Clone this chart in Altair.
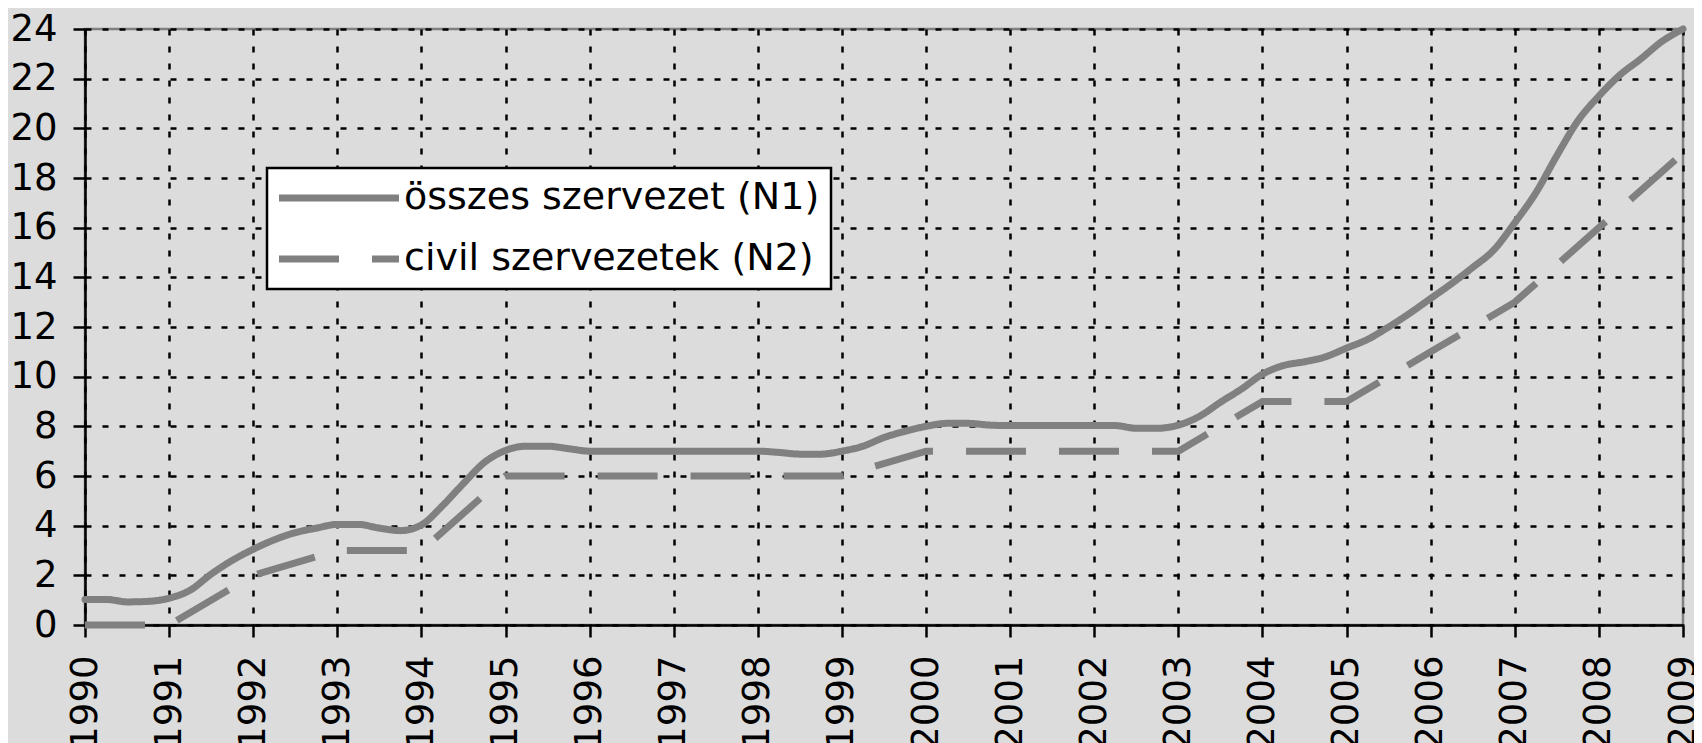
import altair as alt
import pandas as pd

N1_LABEL = "összes szervezet (N1)"
N2_LABEL = "civil szervezetek (N2)"

# quarterly time points 1990.00 ... 2009.00
n1_t = [1990 + q / 4 for q in range(77)]
n1_v = [
    1.03, 1.03, 0.93, 0.95,
    1.08, 1.40, 2.05, 2.60,
    3.05, 3.43, 3.72, 3.90,
    4.05, 4.05, 3.90, 3.80,
    4.03, 4.80, 5.70, 6.55,
    7.03, 7.20, 7.20, 7.10,
    7.00, 7.00, 7.00, 7.00,
    7.00, 7.00, 7.00, 7.00,
    7.00, 6.95, 6.88, 6.88,
    7.00, 7.20, 7.55, 7.80,
    8.00, 8.12, 8.12, 8.05,
    8.03, 8.03, 8.03, 8.03,
    8.03, 8.03, 7.92, 7.92,
    8.05, 8.40, 8.97, 9.50,
    10.10, 10.45, 10.60, 10.80,
    11.15, 11.50, 12.00, 12.55,
    13.15, 13.75, 14.40, 15.10,
    16.20, 17.40, 18.90, 20.30,
    21.30, 22.15, 22.80, 23.50,
    24.00,
]

n2_t = [1990, 1991, 1992, 1993, 1994, 1995, 1996, 1997, 1998, 1999,
        2000, 2001, 2002, 2003, 2004, 2005, 2006, 2007, 2008, 2009]
n2_v = [0, 0, 2, 3, 3, 6, 6, 6, 6, 6,
        7, 7, 7, 7, 9, 9, 11, 13, 16, 19]

year_ticks = list(range(1990, 2010))
y_ticks = list(range(0, 25, 2))

df1 = pd.DataFrame({"t": n1_t, "v": n1_v, "s": N1_LABEL})
df2 = pd.DataFrame({"t": n2_t, "v": n2_v, "s": N2_LABEL})

FONT = "DejaVu Sans"
GRAY = "#808080"
BG = "#dcdcdc"

# legend stroke symbol: a unit path stretched to the right so that the
# symbol is long while its layout footprint stays small
SYM = "M-1.8,0L10.2,0"

x_enc = alt.X(
    "t:Q",
    scale=alt.Scale(domain=[1990, 2009], nice=False, zero=False),
    axis=alt.Axis(
        values=year_ticks, format="d", title=None, labelAngle=270,
        labelAlign="right", labelBaseline="middle", labelPadding=18,
        labelFlush=False, labelOverlap=False,
    ),
)
y_enc = alt.Y(
    "v:Q",
    scale=alt.Scale(domain=[0, 24], nice=False),
    axis=alt.Axis(values=y_ticks, title=None, labelPadding=16, labelOverlap=False),
)
dash_enc = alt.StrokeDash(
    "s:N",
    scale=alt.Scale(domain=[N1_LABEL, N2_LABEL], range=[[1, 0], [60, 33]]),
    legend=alt.Legend(
        title=None, orient="none", legendX=182, legendY=139,
        symbolType=SYM, symbolSize=400, symbolStrokeWidth=7,
        symbolStrokeColor=GRAY, labelFontSize=38, labelFont=FONT,
        labelColor="black", labelOffset=88, rowPadding=23, padding=11,
        fillColor="white", strokeColor="black",
        cornerRadius=0, labelLimit=0,
    ),
)

l1 = alt.Chart(df1).mark_line(
    color=GRAY, strokeWidth=7, interpolate="monotone", strokeCap="round"
).encode(x=x_enc, y=y_enc, strokeDash=dash_enc)

l2 = alt.Chart(df2).mark_line(
    color=GRAY, strokeWidth=7, interpolate="linear", strokeCap="butt"
).encode(x=x_enc, y=y_enc, strokeDash=dash_enc)

chart = (
    alt.layer(l1, l2)
    .properties(
        width=1598, height=596, background=BG,
        autosize=alt.AutoSizeParams(type="none"),
        padding={"left": 77, "top": 21, "right": 11, "bottom": 118},
    )
    .configure_view(stroke=GRAY, strokeWidth=2.5, fill=BG)
    .configure_legend(strokeWidth=2.5)
    .configure_axis(
        domainColor="black", domainWidth=2.5, tickColor="black", tickWidth=2.5,
        tickSize=12, labelFontSize=37, labelFont=FONT, labelColor="black",
        grid=True, gridColor="black", gridDash=[6, 11], gridWidth=2.5,
        gridOpacity=1,
    )
)

chart.save("out.html", embed_options={"renderer": "svg", "actions": False})
